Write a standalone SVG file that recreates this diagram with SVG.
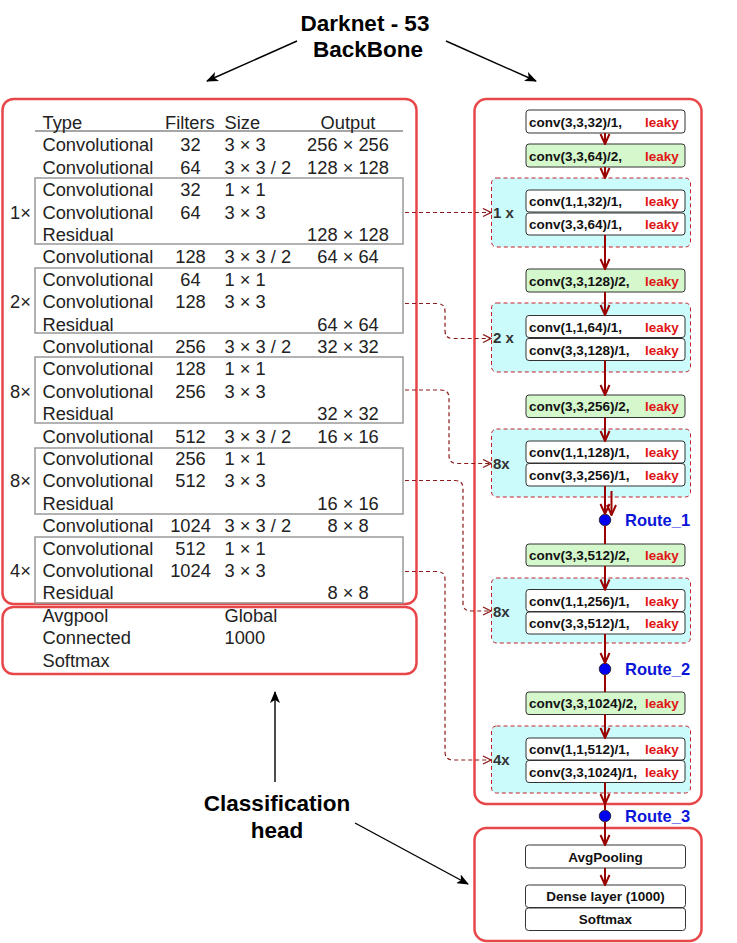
<svg xmlns="http://www.w3.org/2000/svg" width="737" height="943" viewBox="0 0 737 943">
<defs>
<style>
.tt{font-family:"Liberation Sans",Arial,sans-serif;font-size:18.3px;fill:#222}
.tm{text-anchor:middle}
.big{font-family:"Liberation Sans",Arial,sans-serif;font-size:22.5px;font-weight:bold;fill:#000;text-anchor:middle}
.red{fill:none;stroke:#e8474a;stroke-width:2.5}
.grey{fill:none;stroke:#999;stroke-width:1.5}
.node{fill:#fff;stroke:#333;stroke-width:1}
.gnode{fill:#d4f7cc;stroke:#333;stroke-width:1}
.grp{fill:#ccfbfc;stroke:#c0202a;stroke-width:1;stroke-dasharray:4 3}
.nt{font-family:"Liberation Sans",Arial,sans-serif;font-size:13.5px;font-weight:bold;fill:#111}
.lk{font-family:"Liberation Sans",Arial,sans-serif;font-size:13.5px;font-weight:bold;fill:#e01515}
.gl{font-family:"Liberation Sans",Arial,sans-serif;font-size:15px;font-weight:bold;fill:#333}
.rt{font-family:"Liberation Sans",Arial,sans-serif;font-size:16.5px;font-weight:bold;fill:#0a14d8}
.fl{fill:none;stroke:#990000;stroke-width:2}
.dl{fill:none;stroke:#8b1a1a;stroke-width:1.2;stroke-dasharray:4 3}
.bl{fill:none;stroke:#000;stroke-width:1.4}
</style>
<marker id="ah" viewBox="0 0 12 12" refX="11" refY="6" markerWidth="12" markerHeight="12" markerUnits="userSpaceOnUse" orient="auto">
<path d="M1,1.5 L11,6 L1,10.5" fill="none" stroke="#990000" stroke-width="2"/>
</marker>
<marker id="ahd" viewBox="0 0 10 10" refX="9" refY="5" markerWidth="10" markerHeight="10" markerUnits="userSpaceOnUse" orient="auto">
<path d="M1,1 L9,5 L1,9" fill="none" stroke="#8b1a1a" stroke-width="1.3"/>
</marker>
<marker id="ahb" viewBox="0 0 12 10" refX="11" refY="5" markerWidth="12" markerHeight="10" markerUnits="userSpaceOnUse" orient="auto">
<path d="M0,0 L12,5 L0,10 L3,5 Z" fill="#000"/>
</marker>
</defs>
<rect width="737" height="943" fill="#fff"/>

<g id="title">
<text class="big" x="365" y="31">Darknet - 53</text>
<text class="big" x="368" y="57">BackBone</text>
</g>
<g id="cls-label">
<text class="big" x="277" y="811">Classification</text>
<text class="big" x="277" y="838">head</text>
</g>

<g id="table">
<rect class="red" x="2.5" y="99" width="414" height="505" rx="11"/>
<rect class="red" x="2.5" y="607" width="414" height="67" rx="11"/>
<rect class="grey" x="35" y="178" width="368" height="66"/>
<rect class="grey" x="35" y="268" width="368" height="65"/>
<rect class="grey" x="35" y="357" width="368" height="66"/>
<rect class="grey" x="35" y="448" width="368" height="66"/>
<rect class="grey" x="35" y="537" width="368" height="66"/>
<line x1="35" y1="131" x2="403" y2="131" stroke="#888" stroke-width="1.3"/>
<g class="tt">
<text x="42.5" y="129">Type</text><text x="165" y="129">Filters</text><text x="224.5" y="129">Size</text><text x="348" y="129" class="tm">Output</text>
<text x="42.5" y="151.4">Convolutional</text><text x="190.5" y="151.4" class="tm">32</text><text x="224.5" y="151.4">3 × 3</text><text x="348" y="151.4" class="tm">256 × 256</text>
<text x="42.5" y="173.8">Convolutional</text><text x="190.5" y="173.8" class="tm">64</text><text x="224.5" y="173.8">3 × 3 / 2</text><text x="348" y="173.8" class="tm">128 × 128</text>
<text x="42.5" y="196.2">Convolutional</text><text x="190.5" y="196.2" class="tm">32</text><text x="224.5" y="196.2">1 × 1</text>
<text x="10" y="218.6">1×</text><text x="42.5" y="218.6">Convolutional</text><text x="190.5" y="218.6" class="tm">64</text><text x="224.5" y="218.6">3 × 3</text>
<text x="42.5" y="241">Residual</text><text x="348" y="241" class="tm">128 × 128</text>
<text x="42.5" y="263.4">Convolutional</text><text x="190.5" y="263.4" class="tm">128</text><text x="224.5" y="263.4">3 × 3 / 2</text><text x="348" y="263.4" class="tm">64 × 64</text>
<text x="42.5" y="285.8">Convolutional</text><text x="190.5" y="285.8" class="tm">64</text><text x="224.5" y="285.8">1 × 1</text>
<text x="10" y="308.2">2×</text><text x="42.5" y="308.2">Convolutional</text><text x="190.5" y="308.2" class="tm">128</text><text x="224.5" y="308.2">3 × 3</text>
<text x="42.5" y="330.6">Residual</text><text x="348" y="330.6" class="tm">64 × 64</text>
<text x="42.5" y="353">Convolutional</text><text x="190.5" y="353" class="tm">256</text><text x="224.5" y="353">3 × 3 / 2</text><text x="348" y="353" class="tm">32 × 32</text>
<text x="42.5" y="375.4">Convolutional</text><text x="190.5" y="375.4" class="tm">128</text><text x="224.5" y="375.4">1 × 1</text>
<text x="10" y="397.8">8×</text><text x="42.5" y="397.8">Convolutional</text><text x="190.5" y="397.8" class="tm">256</text><text x="224.5" y="397.8">3 × 3</text>
<text x="42.5" y="420.2">Residual</text><text x="348" y="420.2" class="tm">32 × 32</text>
<text x="42.5" y="442.6">Convolutional</text><text x="190.5" y="442.6" class="tm">512</text><text x="224.5" y="442.6">3 × 3 / 2</text><text x="348" y="442.6" class="tm">16 × 16</text>
<text x="42.5" y="465">Convolutional</text><text x="190.5" y="465" class="tm">256</text><text x="224.5" y="465">1 × 1</text>
<text x="10" y="487.4">8×</text><text x="42.5" y="487.4">Convolutional</text><text x="190.5" y="487.4" class="tm">512</text><text x="224.5" y="487.4">3 × 3</text>
<text x="42.5" y="509.8">Residual</text><text x="348" y="509.8" class="tm">16 × 16</text>
<text x="42.5" y="532.2">Convolutional</text><text x="190.5" y="532.2" class="tm">1024</text><text x="224.5" y="532.2">3 × 3 / 2</text><text x="348" y="532.2" class="tm">8 × 8</text>
<text x="42.5" y="554.6">Convolutional</text><text x="190.5" y="554.6" class="tm">512</text><text x="224.5" y="554.6">1 × 1</text>
<text x="10" y="577">4×</text><text x="42.5" y="577">Convolutional</text><text x="190.5" y="577" class="tm">1024</text><text x="224.5" y="577">3 × 3</text>
<text x="42.5" y="599.4">Residual</text><text x="348" y="599.4" class="tm">8 × 8</text>
<text x="42.5" y="622">Avgpool</text><text x="224.5" y="622">Global</text>
<text x="42.5" y="644.4">Connected</text><text x="224.5" y="644.4">1000</text>
<text x="42.5" y="666.8">Softmax</text>
</g>
</g>

<g id="backbone-panel">
<rect class="red" x="474.5" y="99" width="227" height="705" rx="12"/>
</g>
<g id="head-panel">
<rect class="red" x="474.5" y="828" width="227" height="113" rx="12"/>
</g>

<g id="grp1"><rect class="grp" x="491.5" y="178" width="199" height="69" rx="5"/><text class="gl" x="493" y="218">1 x</text></g>
<g id="grp2"><rect class="grp" x="491.5" y="303" width="199" height="69" rx="5"/><text class="gl" x="493" y="343">2 x</text></g>
<g id="grp3"><rect class="grp" x="491.5" y="429" width="199" height="68" rx="5"/><text class="gl" x="493" y="469">8x</text></g>
<g id="grp4"><rect class="grp" x="491.5" y="578" width="199" height="65" rx="5"/><text class="gl" x="493" y="617">8x</text></g>
<g id="grp5"><rect class="grp" x="491.5" y="726" width="199" height="67" rx="5"/><text class="gl" x="493" y="765">4x</text></g>

<g id="n1"><rect class="node" x="526" y="110" width="159" height="23" rx="3"/><text class="nt" x="529" y="126.5">conv(3,3,32)/1,</text><text class="lk" x="645" y="126.5">leaky</text></g>
<g id="n2"><rect class="gnode" x="526" y="144" width="159" height="23" rx="3"/><text class="nt" x="529" y="160.5">conv(3,3,64)/2,</text><text class="lk" x="645" y="160.5">leaky</text></g>
<g id="n3"><rect class="node" x="526" y="190" width="159" height="22" rx="3"/><text class="nt" x="529" y="206">conv(1,1,32)/1,</text><text class="lk" x="645" y="206">leaky</text></g>
<g id="n4"><rect class="node" x="526" y="213" width="159" height="22" rx="3"/><text class="nt" x="529" y="229">conv(3,3,64)/1,</text><text class="lk" x="645" y="229">leaky</text></g>
<g id="n5"><rect class="gnode" x="526" y="269" width="159" height="23" rx="3"/><text class="nt" x="529" y="285.5">conv(3,3,128)/2,</text><text class="lk" x="645" y="285.5">leaky</text></g>
<g id="n6"><rect class="node" x="526" y="315.5" width="159" height="22" rx="3"/><text class="nt" x="529" y="331.5">conv(1,1,64)/1,</text><text class="lk" x="645" y="331.5">leaky</text></g>
<g id="n7"><rect class="node" x="526" y="338.5" width="159" height="22" rx="3"/><text class="nt" x="529" y="354.5">conv(3,3,128)/1,</text><text class="lk" x="645" y="354.5">leaky</text></g>
<g id="n8"><rect class="gnode" x="526" y="395" width="159" height="22.5" rx="3"/><text class="nt" x="529" y="411">conv(3,3,256)/2,</text><text class="lk" x="645" y="411">leaky</text></g>
<g id="n9"><rect class="node" x="526" y="441" width="159" height="22" rx="3"/><text class="nt" x="529" y="457">conv(1,1,128)/1,</text><text class="lk" x="645" y="457">leaky</text></g>
<g id="n10"><rect class="node" x="526" y="463.5" width="159" height="22.5" rx="3"/><text class="nt" x="529" y="479.5">conv(3,3,256)/1,</text><text class="lk" x="645" y="479.5">leaky</text></g>
<g id="n11"><rect class="gnode" x="526" y="544" width="159" height="22" rx="3"/><text class="nt" x="529" y="560">conv(3,3,512)/2,</text><text class="lk" x="645" y="560">leaky</text></g>
<g id="n12"><rect class="node" x="526" y="589.5" width="159" height="22" rx="3"/><text class="nt" x="529" y="605.5">conv(1,1,256)/1,</text><text class="lk" x="645" y="605.5">leaky</text></g>
<g id="n13"><rect class="node" x="526" y="612" width="159" height="22" rx="3"/><text class="nt" x="529" y="628">conv(3,3,512)/1,</text><text class="lk" x="645" y="628">leaky</text></g>
<g id="n14"><rect class="gnode" x="526" y="692" width="159" height="22.5" rx="3"/><text class="nt" x="529" y="708">conv(3,3,1024)/2,</text><text class="lk" x="645" y="708">leaky</text></g>
<g id="n15"><rect class="node" x="526" y="738" width="159" height="22" rx="3"/><text class="nt" x="529" y="754">conv(1,1,512)/1,</text><text class="lk" x="645" y="754">leaky</text></g>
<g id="n16"><rect class="node" x="526" y="760.5" width="159" height="22" rx="3"/><text class="nt" x="529" y="776.5">conv(3,3,1024)/1,</text><text class="lk" x="645" y="776.5">leaky</text></g>
<g id="n17"><rect class="node" x="525.5" y="845" width="160" height="23" rx="3"/><text class="nt tm" x="605.5" y="861.5" text-anchor="middle">AvgPooling</text></g>
<g id="n18"><rect class="node" x="525.5" y="885" width="160" height="22.5" rx="3"/><text class="nt" x="605.5" y="901" text-anchor="middle">Dense layer (1000)</text></g>
<g id="n19"><rect class="node" x="525.5" y="908" width="160" height="22.5" rx="3"/><text class="nt" x="605.5" y="924" text-anchor="middle">Softmax</text></g>

<g id="route1"><circle cx="605" cy="520" r="5.8" fill="#0000f0" stroke="#222" stroke-width="0.8"/><text class="rt" x="625" y="526">Route_1</text></g>
<g id="route2"><circle cx="605" cy="669" r="5.8" fill="#0000f0" stroke="#222" stroke-width="0.8"/><text class="rt" x="625" y="675">Route_2</text></g>
<g id="route3"><circle cx="605" cy="816" r="5.8" fill="#0000f0" stroke="#222" stroke-width="0.8"/><text class="rt" x="625" y="822">Route_3</text></g>

<g id="connectors">
<line class="fl" x1="605" y1="133" x2="605" y2="144" marker-end="url(#ah)"/>
<line class="fl" x1="605" y1="167" x2="605" y2="178" marker-end="url(#ah)"/>
<line class="fl" x1="605" y1="235" x2="605" y2="269" marker-end="url(#ah)"/>
<line class="fl" x1="605" y1="292" x2="605" y2="315" marker-end="url(#ah)"/>
<line class="fl" x1="605" y1="360.5" x2="605" y2="395" marker-end="url(#ah)"/>
<line class="fl" x1="605" y1="417.5" x2="605" y2="441" marker-end="url(#ah)"/>
<line class="fl" x1="605" y1="486" x2="605" y2="514" marker-end="url(#ah)"/>
<line class="fl" x1="611.5" y1="491" x2="611.5" y2="515" marker-end="url(#ah)"/>
<line class="fl" x1="605" y1="526" x2="605" y2="544"/>
<line class="fl" x1="605" y1="566" x2="605" y2="589.5" marker-end="url(#ah)"/>
<line class="fl" x1="605" y1="634" x2="605" y2="663" marker-end="url(#ah)"/>
<line class="fl" x1="605" y1="675" x2="605" y2="692"/>
<line class="fl" x1="605" y1="714.5" x2="605" y2="738" marker-end="url(#ah)"/>
<line class="fl" x1="605" y1="782.5" x2="605" y2="804" marker-end="url(#ah)"/>
<line class="fl" x1="605" y1="804" x2="605" y2="810"/>
<line class="fl" x1="605" y1="822" x2="605" y2="845" marker-end="url(#ah)"/>
<line class="fl" x1="605" y1="868" x2="605" y2="885" marker-end="url(#ah)"/>

<path class="dl" d="M405,212.5 L491,212.5" marker-end="url(#ahd)"/>
<path class="dl" d="M405,303.5 L437,303.5 Q445,303.5 445,311.5 L445,330.5 Q445,338.5 453,338.5 L491,338.5" marker-end="url(#ahd)"/>
<path class="dl" d="M405,390 L441,390 Q449,390 449,398 L449,455.5 Q449,463.5 457,463.5 L491,463.5" marker-end="url(#ahd)"/>
<path class="dl" d="M405,480.5 L455,480.5 Q463,480.5 463,488.5 L463,603 Q463,611 471,611 L491,611" marker-end="url(#ahd)"/>
<path class="dl" d="M405,571.5 L437,571.5 Q445,571.5 445,579.5 L445,752 Q445,760 453,760 L491,760" marker-end="url(#ahd)"/>

<line class="bl" x1="297" y1="41" x2="207" y2="81" marker-end="url(#ahb)"/>
<line class="bl" x1="446" y1="41" x2="536" y2="81" marker-end="url(#ahb)"/>
<line class="bl" x1="275" y1="782" x2="275" y2="692" marker-end="url(#ahb)"/>
<line class="bl" x1="355" y1="823" x2="468" y2="884" marker-end="url(#ahb)"/>
</g>
</svg>
